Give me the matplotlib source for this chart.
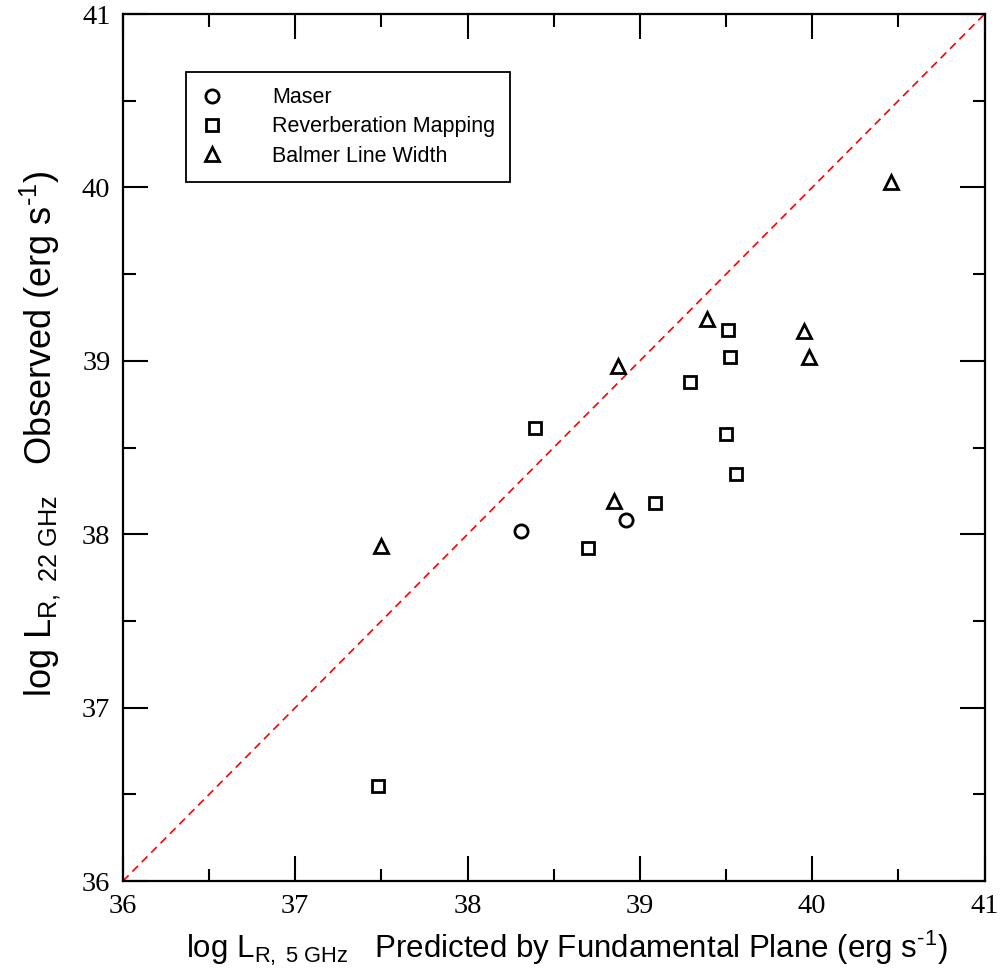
import matplotlib
matplotlib.use("Agg")
import matplotlib.pyplot as plt
from matplotlib.ticker import MultipleLocator

plt.rcParams['mathtext.fontset'] = 'custom'
plt.rcParams['mathtext.rm'] = 'Liberation Sans'
plt.rcParams['mathtext.it'] = 'Liberation Sans:italic'
plt.rcParams['mathtext.bf'] = 'Liberation Sans:bold'

# log L_R predicted (5 GHz, fundamental plane) vs observed (22 GHz)
maser_x = [38.31, 38.92]
maser_y = [38.02, 38.08]

rm_x = [38.39, 39.09, 38.70, 39.51, 39.52, 39.29, 39.50, 39.56, 37.48]
rm_y = [38.61, 38.18, 37.92, 39.18, 39.02, 38.88, 38.58, 38.35, 36.55]

balmer_x = [37.50, 38.87, 38.85, 39.39, 39.95, 39.98, 40.46]
balmer_y = [37.93, 38.97, 38.19, 39.24, 39.17, 39.02, 40.03]

axis_range = [36, 41]
tick_values = [36, 37, 38, 39, 40, 41]

fig = plt.figure(figsize=(10.03, 9.8), dpi=100)
ax = fig.add_axes([0.1226, 0.101, 0.8590, 0.8847])

mk = dict(linestyle='none', markerfacecolor='white', markeredgecolor='black',
          markeredgewidth=2.0, color='black')
ax.plot(maser_x, maser_y, marker='o', markersize=9.5, label='Maser', **mk)
ax.plot(rm_x, rm_y, marker='s', markersize=8.5, label='Reverberation Mapping', **mk)
ax.plot(balmer_x, balmer_y, marker='^', markersize=9.5, label='Balmer Line Width', **mk)

# one-to-one line
ax.plot(axis_range, axis_range, color='red', linewidth=1.2,
        linestyle=(0, (4.8, 3.2)), zorder=1)

ax.set_xlim(axis_range)
ax.set_ylim(axis_range)
ax.set_xticks(tick_values)
ax.set_yticks(tick_values)
ax.xaxis.set_minor_locator(MultipleLocator(0.5))
ax.yaxis.set_minor_locator(MultipleLocator(0.5))
ax.tick_params(which='both', direction='in', top=True, right=True, width=1.5)
ax.tick_params(which='major', length=18)
ax.tick_params(which='minor', length=9)
ax.tick_params(axis='x', which='major', pad=9)
ax.tick_params(axis='y', which='major', pad=9)
for lab in ax.get_xticklabels() + ax.get_yticklabels():
    lab.set_fontfamily('Liberation Serif')
    lab.set_fontsize(20.5)
for sp in ax.spines.values():
    sp.set_linewidth(1.6)

ax.set_xlabel(r'log L$_{\mathregular{R,\ 5\ GHz}}$   Predicted by Fundamental Plane (erg s$^{\text{-1}}$)',
              fontfamily='Liberation Sans', fontsize=22.5, labelpad=7)
ax.set_ylabel(r'log L$_{\mathregular{R,\ 22\ GHz}}$   Observed (erg s$^{\text{-1}}$)',
              fontfamily='Liberation Sans', fontsize=26, labelpad=14)
ax.xaxis.label.set_x(0.515)
ax.yaxis.label.set_y(0.516)

leg = ax.legend(loc='upper left', bbox_to_anchor=(0.073, 0.933), borderaxespad=0,
                prop={'family': 'Liberation Sans', 'size': 15.5}, frameon=True,
                fancybox=False, edgecolor='black', handlelength=1.0,
                handletextpad=2.3, borderpad=0.7, labelspacing=0.38)
leg.get_frame().set_linewidth(1.3)
leg.get_frame().set_alpha(1)

fig.savefig('out.png', dpi=100)
